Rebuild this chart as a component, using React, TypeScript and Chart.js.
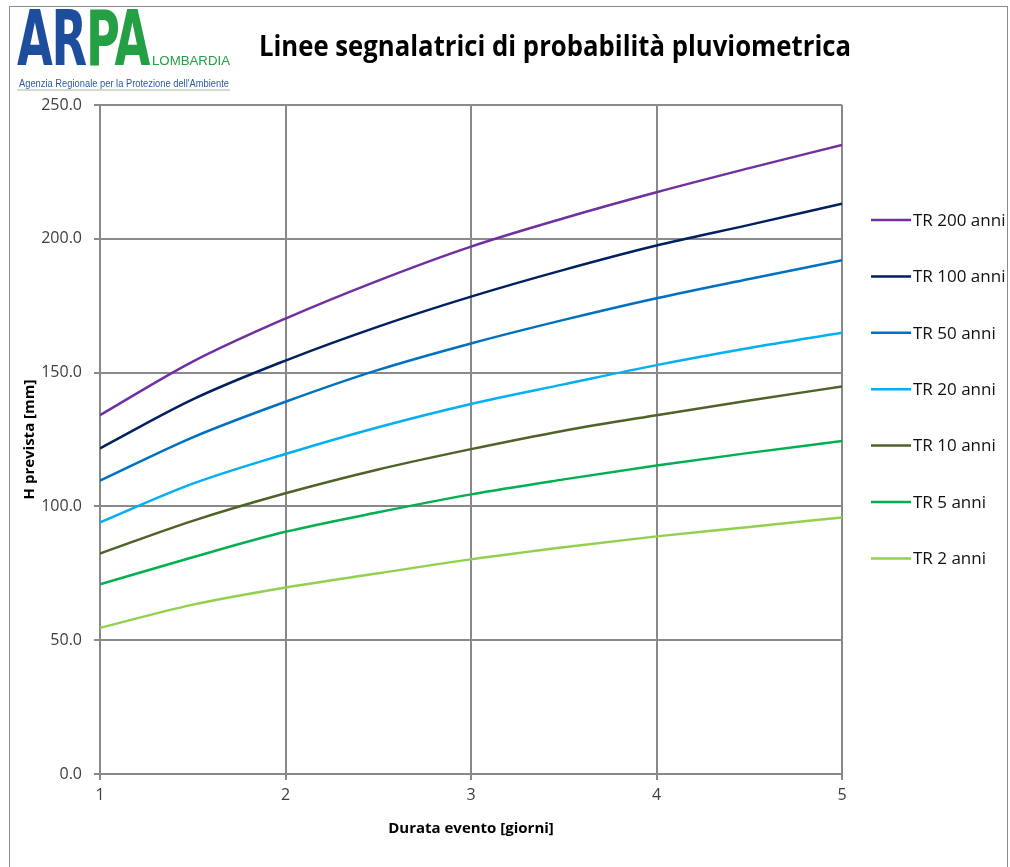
import React, { useEffect, useLayoutEffect, useRef } from "react";
import { Chart, registerables } from "chart.js";

Chart.register(...registerables);

// ---- data ----
const durations = [1, 1.5, 2, 2.5, 3, 3.5, 4, 4.5, 5];
const seriesLabels = ["TR 200 anni", "TR 100 anni", "TR 50 anni", "TR 20 anni", "TR 10 anni", "TR 5 anni", "TR 2 anni"];
const tr200 = [134.1, 154.1, 170.2, 184.4, 197.1, 207.7, 217.4, 226.4, 235.1];
const tr100 = [121.7, 140.0, 154.5, 167.2, 178.4, 188.4, 197.5, 205.2, 213.1];
const tr50 = [109.6, 125.8, 139.1, 151.0, 160.9, 169.7, 177.8, 185.0, 192.0];
const tr20 = [94.0, 108.5, 119.6, 129.6, 138.3, 145.6, 152.8, 159.2, 164.9];
const tr10 = [82.4, 94.6, 104.9, 113.8, 121.4, 128.3, 134.1, 139.6, 144.8];
const tr5 = [70.9, 81.0, 90.5, 97.8, 104.5, 110.1, 115.3, 120.0, 124.4];
const tr2 = [54.6, 63.3, 69.7, 75.0, 80.2, 84.7, 88.8, 92.3, 95.9];
const seriesValues = [tr200, tr100, tr50, tr20, tr10, tr5, tr2];
const seriesColors = ["#7030A0", "#002060", "#0070C0", "#00B0F0", "#4F6228", "#00B050", "#92D050"];

const xMin = 1;
const xMax = 5;
const yMin = 0;
const yMax = 250;
const yStep = 50;

const chartTitle = "Linee segnalatrici di probabilità pluviometrica";
const xTitle = "Durata evento [giorni]";
const yTitle = "H prevista [mm]";

const FONT = '"Open Sans", "Noto Sans", sans-serif';
const GRID = "#898989";

function FitText(props: { width: number; style?: React.CSSProperties; children: React.ReactNode }) {
  const ref = useRef<HTMLSpanElement>(null);
  useLayoutEffect(() => {
    const el = ref.current;
    if (!el) return;
    el.style.transform = "none";
    const w = el.getBoundingClientRect().width;
    if (w > 0) el.style.transform = `scaleX(${props.width / w})`;
  });
  return (
    <span
      ref={ref}
      style={{ display: "inline-block", whiteSpace: "nowrap", transformOrigin: "0 0", ...props.style }}
    >
      {props.children}
    </span>
  );
}

const legendPlugin = {
  id: "customLegend",
  afterDraw(chart: any) {
    const ctx = chart.ctx as CanvasRenderingContext2D;
    ctx.save();
    chart.data.datasets.forEach((ds: any, i: number) => {
      const y = 220 + i * 56.4;
      ctx.strokeStyle = ds.borderColor;
      ctx.lineWidth = 2.5;
      ctx.beginPath();
      ctx.moveTo(871, y);
      ctx.lineTo(911, y);
      ctx.stroke();
      ctx.fillStyle = "#111";
      ctx.font = `17px ${FONT}`;
      ctx.textBaseline = "middle";
      ctx.textAlign = "left";
      ctx.fillText(ds.label, 913, y + 1);
    });
    ctx.restore();
  },
};

export default function App() {
  const canvasRef = useRef<HTMLCanvasElement>(null);

  useEffect(() => {
    document.body.style.margin = "0";
    const canvas = canvasRef.current;
    if (!canvas) return;
    const chart = new Chart(canvas, {
      type: "line",
      data: {
        datasets: seriesLabels.map((label, i) => ({
          label,
          data: durations.map((d, j) => ({ x: d, y: seriesValues[i][j] })),
          borderColor: seriesColors[i],
          backgroundColor: seriesColors[i],
          borderWidth: 2.5,
          pointRadius: 0,
          cubicInterpolationMode: "monotone" as const,
          fill: false,
        })),
      },
      options: {
        animation: false,
        responsive: false,
        maintainAspectRatio: false,
        layout: { padding: { top: 105, right: 168, bottom: 0, left: 0 } },
        plugins: { legend: { display: false }, tooltip: { enabled: false }, title: { display: false } },
        scales: {
          x: {
            type: "linear",
            min: xMin,
            max: xMax,
            afterFit: (s: any) => {
              s.height = 93;
            },
            ticks: {
              stepSize: 1,
              color: "#404040",
              font: { family: FONT, size: 16 },
              padding: 6,
              maxRotation: 0,
              autoSkip: false,
              callback: (v: any) => String(v),
            },
            grid: { color: GRID, lineWidth: 2, tickLength: 6 },
            border: { color: GRID, width: 2 },
            title: {
              display: true,
              text: xTitle,
              color: "#000",
              font: { family: FONT, size: 15, weight: "bold" },
              padding: { top: 0, bottom: 29 },
            },
          },
          y: {
            type: "linear",
            min: yMin,
            max: yMax,
            afterFit: (s: any) => {
              s.width = 100;
            },
            ticks: {
              stepSize: yStep,
              color: "#404040",
              font: { family: FONT, size: 16 },
              padding: 12,
              callback: (v: any) => Number(v).toFixed(1),
            },
            grid: { color: GRID, lineWidth: 2, tickLength: 6 },
            border: { color: GRID, width: 2 },
            title: {
              display: true,
              text: yTitle,
              color: "#000",
              font: { family: FONT, size: 15, weight: "bold" },
              padding: { top: 21, bottom: 0 },
            },
          },
        },
      },
      plugins: [legendPlugin],
    });
    return () => chart.destroy();
  }, []);

  return (
    <div style={{ position: "absolute", left: 0, top: 0, width: 1010, height: 867, background: "#fff", overflow: "hidden" }}>
      <canvas ref={canvasRef} width={1010} height={867} style={{ position: "absolute", left: 0, top: 0, display: "block" }} />
      {/* frame */}
      <div style={{ position: "absolute", left: 9, top: 6, width: 997, height: 900, border: "1.5px solid #8a8a8a", pointerEvents: "none" }} />
      {/* logo */}
      <div style={{ position: "absolute", left: 17, top: 1, lineHeight: 1 }}>
        <FitText width={132} style={{ fontFamily: '"DejaVu Sans", sans-serif', fontWeight: 700, fontSize: 76, letterSpacing: -2 }}>
          <span style={{ color: "#1d4e9e" }}>AR</span>
          <span style={{ color: "#22a043" }}>PA</span>
        </FitText>
      </div>
      <div style={{ position: "absolute", left: 152, top: 52, lineHeight: 1 }}>
        <FitText width={78} style={{ fontFamily: '"Liberation Sans", Arial, sans-serif', fontSize: 12, color: "#22a043" }}>
          LOMBARDIA
        </FitText>
      </div>
      <div style={{ position: "absolute", left: 19, top: 74, lineHeight: 1 }}>
        <FitText width={210} style={{ fontFamily: '"Liberation Sans", Arial, sans-serif', fontSize: 11, color: "#2e5aa5" }}>
          Agenzia Regionale per la Protezione dell'Ambiente
        </FitText>
      </div>
      <div style={{ position: "absolute", left: 17, top: 89, width: 213, height: 2, background: "#cfdccb" }} />
      {/* title */}
      <div style={{ position: "absolute", left: 259, top: 30, lineHeight: 1 }}>
        <FitText width={592} style={{ fontFamily: FONT, fontWeight: 700, fontSize: 29, color: "#000" }}>
          {chartTitle}
        </FitText>
      </div>
    </div>
  );
}
